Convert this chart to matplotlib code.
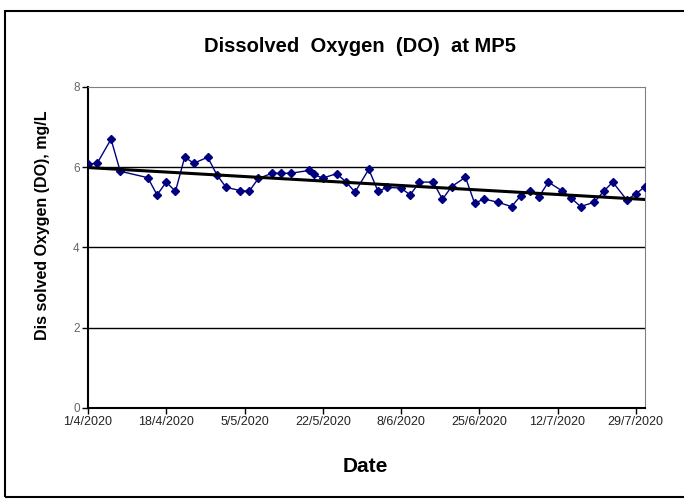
import pandas as pd
import numpy as np
import matplotlib
matplotlib.use("Agg")
import matplotlib.pyplot as plt
import matplotlib.dates as mdates
from matplotlib.patches import Rectangle

# sampling days (offset from 1/4/2020) and DO readings in mg/L
day_offsets = [0, 2, 5, 7, 13, 15, 17, 19, 21, 23, 26, 28, 30, 33, 35, 37, 40, 42, 44,
               48, 49, 51, 54, 56, 58, 61, 63, 65, 68, 70, 72, 75, 77, 79, 82, 84, 86,
               89, 92, 94, 96, 98, 100, 103, 105, 107, 110, 112, 114, 117, 119, 121]
do_values = [6.08, 6.1, 6.7, 5.9, 5.74, 5.31, 5.63, 5.4, 6.25, 6.1, 6.25, 5.81, 5.5,
             5.42, 5.4, 5.72, 5.85, 5.85, 5.85, 5.92, 5.82, 5.73, 5.84, 5.64, 5.38, 5.95,
             5.4, 5.5, 5.48, 5.31, 5.63, 5.63, 5.2, 5.52, 5.75, 5.1, 5.21, 5.13, 5.02,
             5.29, 5.41, 5.27, 5.63, 5.41, 5.23, 5.02, 5.13, 5.4, 5.63, 5.19, 5.33, 5.52]
tick_dates = ["2020-04-01", "2020-04-18", "2020-05-05", "2020-05-22",
              "2020-06-08", "2020-06-25", "2020-07-12", "2020-07-29"]

start = pd.Timestamp("2020-04-01")
dates = start + pd.to_timedelta(day_offsets, unit="D")
ticks = pd.to_datetime(tick_dates)

plt.rcParams["font.family"] = "Liberation Sans"

fig = plt.figure(figsize=(6.84, 5.01), dpi=100)
fig.patches.append(Rectangle((5 / 684, 1 - 497 / 501), 1.0, 486 / 501,
                             transform=fig.transFigure, fill=False,
                             edgecolor="black", linewidth=1.5))

ax = fig.add_axes([88 / 684, 1 - 408 / 501, (645 - 88) / 684, (408 - 87) / 501])

ax.plot(dates, do_values, color="#000080", marker="D", markersize=4,
        linewidth=1, zorder=3)

# linear trend line
xnum = mdates.date2num(dates)
coef = np.polyfit(xnum, do_values, 1)
xl = np.array([xnum[0], xnum[-1]])
ax.plot(mdates.num2date(xl), np.polyval(coef, xl), color="black", linewidth=2.2, zorder=4)

ax.set_ylim(0, 8)
ax.set_yticks([0, 2, 4, 6, 8])
ax.set_xlim(start, start + pd.Timedelta(days=121))
ax.set_xticks(ticks)
ax.set_xticklabels([f"{d.day}/{d.month}/{d.year}" for d in ticks],
                   fontsize=9, color="#222222")
for lab in ax.get_yticklabels():
    lab.set_fontsize(8.5)
    lab.set_color("#666666")

for y in [2, 4, 6]:
    ax.axhline(y, color="black", linewidth=1, zorder=1)

ax.spines["left"].set_linewidth(1.5)
ax.spines["bottom"].set_linewidth(1.5)
ax.spines["top"].set_color("#808080")
ax.spines["right"].set_color("#808080")
ax.tick_params(axis="both", direction="out", length=4, width=1, pad=2)

fig.text(360 / 684, 1 - 47 / 501, "Dissolved  Oxygen  (DO)  at MP5",
         ha="center", va="center", fontsize=14.5, fontweight="bold")
fig.text(43 / 684, 1 - 225 / 501, "Dis solved Oxygen (DO), mg/L", rotation=90,
         ha="center", va="center", fontsize=11.5, fontweight="bold")
fig.text(365 / 684, 1 - 466 / 501, "Date", ha="center", va="center",
         fontsize=15, fontweight="bold")

fig.savefig("out.png", dpi=100)
